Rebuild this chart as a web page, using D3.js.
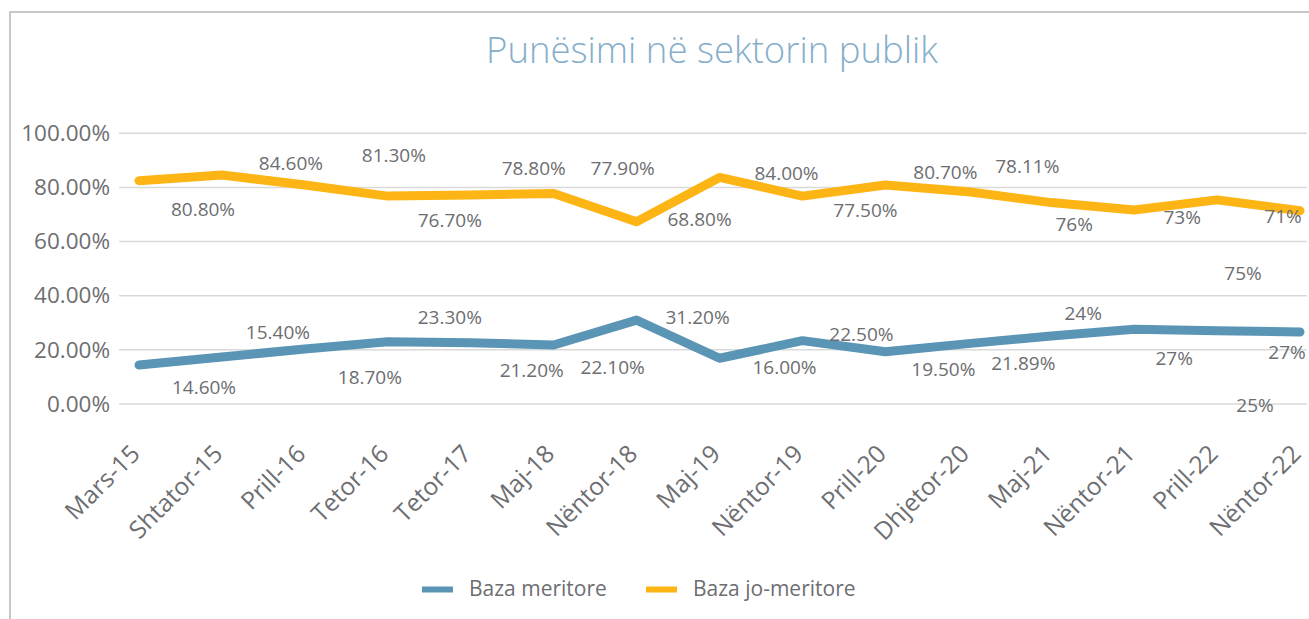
<!DOCTYPE html>
<html>
<head>
<meta charset="utf-8">
<script src="https://cdn.jsdelivr.net/npm/d3@7"></script>
<style>
  html, body { margin: 0; padding: 0; background: #fff; }
  svg { display: block; font-family: "Open Sans", "Noto Sans", sans-serif; }
</style>
</head>
<body>
<svg id="chart" width="1309" height="619"></svg>
<script>
// ---- Data ----
const categories = ["Mars-15", "Shtator-15", "Prill-16", "Tetor-16", "Tetor-17", "Maj-18", "Nëntor-18",
  "Maj-19", "Nëntor-19", "Prill-20", "Dhjetor-20", "Maj-21", "Nëntor-21", "Prill-22", "Nëntor-22"];
const meritoreValues = [14.4, 17.4, 20.3, 23.0, 22.6, 21.8, 31.0, 16.9, 23.4, 19.3, 22.3, 25.1, 27.6, 27.1, 26.6];
const joMeritoreValues = [82.5, 84.6, 80.9, 76.8, 77.2, 77.8, 67.3, 83.7, 76.8, 80.9, 78.4, 74.4, 71.7, 75.4, 71.4];
const meritoreLabels = ["14.60%", "15.40%", "18.70%", "23.30%", "21.20%", "22.10%", "31.20%", "16.00%",
  "22.50%", "19.50%", "21.89%", "24%", "27%", "25%", "27%"];
const joMeritoreLabels = ["80.80%", "84.60%", "81.30%", "76.70%", "78.80%", "77.90%", "68.80%", "84.00%",
  "77.50%", "80.70%", "78.11%", "76%", "73%", "75%", "71%"];
const yTicks = [0, 20, 40, 60, 80, 100];
const seriesNames = ["Baza meritore", "Baza jo-meritore"];
const title = "Punësimi në sektorin publik";

// ---- Layout (label offsets from their point, in px) ----
const meritoreLabelOffsets = [[65,22],[56,-25],[65,28],[62,-24],[61,28],[59,22],[61,-3],[65,9],
  [59,-6],[58,18],[55,20],[32,-23],[40,29],[38,75],[-13,20]];
const joMeritoreLabelOffsets = [[64,29],[69,-12],[89,-30],[62,24],[63,-27],[69,-25],[63,-2],[67,-4],
  [63,14],[60,-13],[59,-25],[23,22],[48,7],[26,73],[-17,6]];

const colors = { meritore: "#5b95b5", jo: "#fdb515", text: "#6d6e71", grid: "#d9d9d9", title: "#86aecb", border: "#c8c8c8" };

const svg = d3.select("#chart");

// border (top + left)
svg.append("path")
  .attr("d", "M10,619 V12 H1309")
  .attr("fill", "none").attr("stroke", colors.border).attr("stroke-width", 2);

// title
svg.append("text")
  .attr("x", 712).attr("y", 63)
  .attr("text-anchor", "middle")
  .attr("font-size", 36.5).attr("font-weight", 300)
  .attr("fill", colors.title)
  .text(title);

const x = d3.scalePoint().domain(categories).range([139, 1300]);
const y = d3.scaleLinear().domain([0, 100]).range([404, 133.3]);

// gridlines
svg.append("g").selectAll("line").data(yTicks).join("line")
  .attr("x1", 119).attr("x2", 1307)
  .attr("y1", d => y(d)).attr("y2", d => y(d))
  .attr("stroke", colors.grid).attr("stroke-width", 1.5);

// y axis labels
const yAxis = d3.axisLeft(y).tickValues(yTicks).tickSize(0).tickPadding(0)
  .tickFormat(d => d.toFixed(2) + "%");
const gy = svg.append("g").attr("transform", "translate(110,0)").call(yAxis);
gy.select(".domain").remove();
gy.selectAll("text").attr("font-size", 22.5).attr("fill", colors.text)
  .attr("font-family", "'Open Sans', sans-serif");

// x axis labels
const xFont = 24.5;
const xAxis = d3.axisBottom(x).tickSize(0).tickPadding(0);
const gx = svg.append("g").call(xAxis);
gx.select(".domain").remove();
gx.selectAll(".tick").attr("transform", d => `translate(${x(d) - 10},443)`);
gx.selectAll("text")
  .attr("font-size", xFont).attr("fill", colors.text)
  .attr("font-family", "'Open Sans', sans-serif")
  .attr("text-anchor", "end")
  .attr("y", 0).attr("x", 0)
  .attr("dy", "0.71em")
  .attr("transform", "rotate(-45)");

// lines
const line = d3.line().x((d, i) => x(categories[i])).y(d => y(d));
svg.append("path").datum(meritoreValues)
  .attr("d", line).attr("fill", "none")
  .attr("stroke", colors.meritore).attr("stroke-width", 9)
  .attr("stroke-linejoin", "round").attr("stroke-linecap", "round");
svg.append("path").datum(joMeritoreValues)
  .attr("d", line).attr("fill", "none")
  .attr("stroke", colors.jo).attr("stroke-width", 9)
  .attr("stroke-linejoin", "round").attr("stroke-linecap", "round");

// data labels
function addLabels(values, labels, offsets) {
  svg.append("g").selectAll("text").data(values).join("text")
    .attr("x", (d, i) => x(categories[i]) + offsets[i][0])
    .attr("y", (d, i) => y(d) + offsets[i][1])
    .attr("dy", "0.35em")
    .attr("text-anchor", "middle")
    .attr("font-size", 19).attr("fill", colors.text)
    .text((d, i) => labels[i]);
}
addLabels(joMeritoreValues, joMeritoreLabels, joMeritoreLabelOffsets);
addLabels(meritoreValues, meritoreLabels, meritoreLabelOffsets);

// legend
const legend = svg.append("g");
const legendItems = [
  { name: seriesNames[0], color: colors.meritore, x: 422, tx: 469 },
  { name: seriesNames[1], color: colors.jo, x: 646, tx: 693 }
];
legend.selectAll("rect").data(legendItems).join("rect")
  .attr("x", d => d.x).attr("y", 586.5).attr("width", 31).attr("height", 6)
  .attr("fill", d => d.color);
legend.selectAll("text").data(legendItems).join("text")
  .attr("x", d => d.tx).attr("y", 596)
  .attr("font-size", 21).attr("fill", colors.text)
  .text(d => d.name);
</script>
</body>
</html>
